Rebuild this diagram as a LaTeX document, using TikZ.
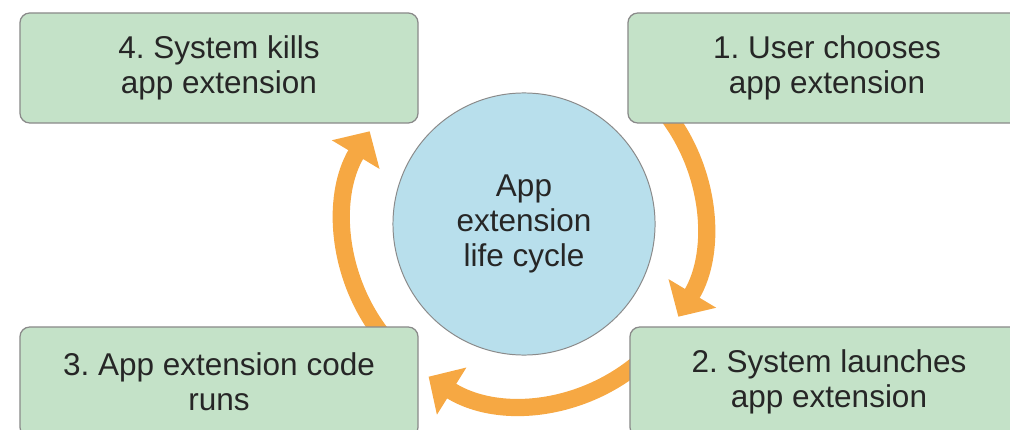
\documentclass[tikz,border=0pt]{standalone}
\usepackage{fontspec}
\setmainfont{Liberation Sans}
\usetikzlibrary{arrows.meta,backgrounds}
\definecolor{box green}{HTML}{C4E2C8}
\definecolor{cycle blue}{HTML}{B8DFEC}
\definecolor{arrow orange}{HTML}{F6A843}
\definecolor{edge gray}{HTML}{8A8A8A}
\frenchspacing

\begin{document}
\begin{tikzpicture}[x = 0.025cm, y = 0.025cm,
		stage box/.style = {draw = edge gray, line width = 0.9pt, fill = box green,
			rounded corners = 7pt, minimum width = 9.95cm, minimum height = 2.75cm,
			inner sep = 0pt, align = center},
		cycle arrow/.style = {draw = arrow orange, line width = 0.43cm,
			-{Triangle[length = 0.68cm, width = 1.35cm]}},
		font = \fontsize{22.4}{25}\selectfont, text = black!85]
			\useasboundingbox (0, 0) rectangle (1010, 429);
			% middle
			\node[circle, draw = edge gray, line width = 0.7pt, fill = cycle blue,
				minimum size = 6.55cm, inner sep = 0pt, align = center]
				(cycle) at (524, 205) {App\\extension\\life cycle};
			% the four stages
			\node[stage box] (chooses) at (827, 361) {1. User chooses\\app extension};
			\node[stage box] (launches) at (829, 47) {2. System launches\\app extension};
			\node[stage box] (runs) at (219, 47) {3. App extension code\\runs};
			\node[stage box] (kills) at (219, 361) {4. System kills\\app extension};
			% arrows, under the boxes
			\begin{scope}[on background layer]
				\draw[cycle arrow] ([shift = {(40:4.5cm)}]cycle.center)
					arc[start angle = 40, end angle = -31, radius = 4.5cm];
				\draw[cycle arrow] ([shift = {(-40:4.5cm)}]cycle.center)
					arc[start angle = -40, end angle = -122, radius = 4.5cm];
				\draw[cycle arrow] ([shift = {(220:4.5cm)}]cycle.center)
					arc[start angle = 220, end angle = 149, radius = 4.5cm];
			\end{scope}
		\end{tikzpicture}
\end{document}
